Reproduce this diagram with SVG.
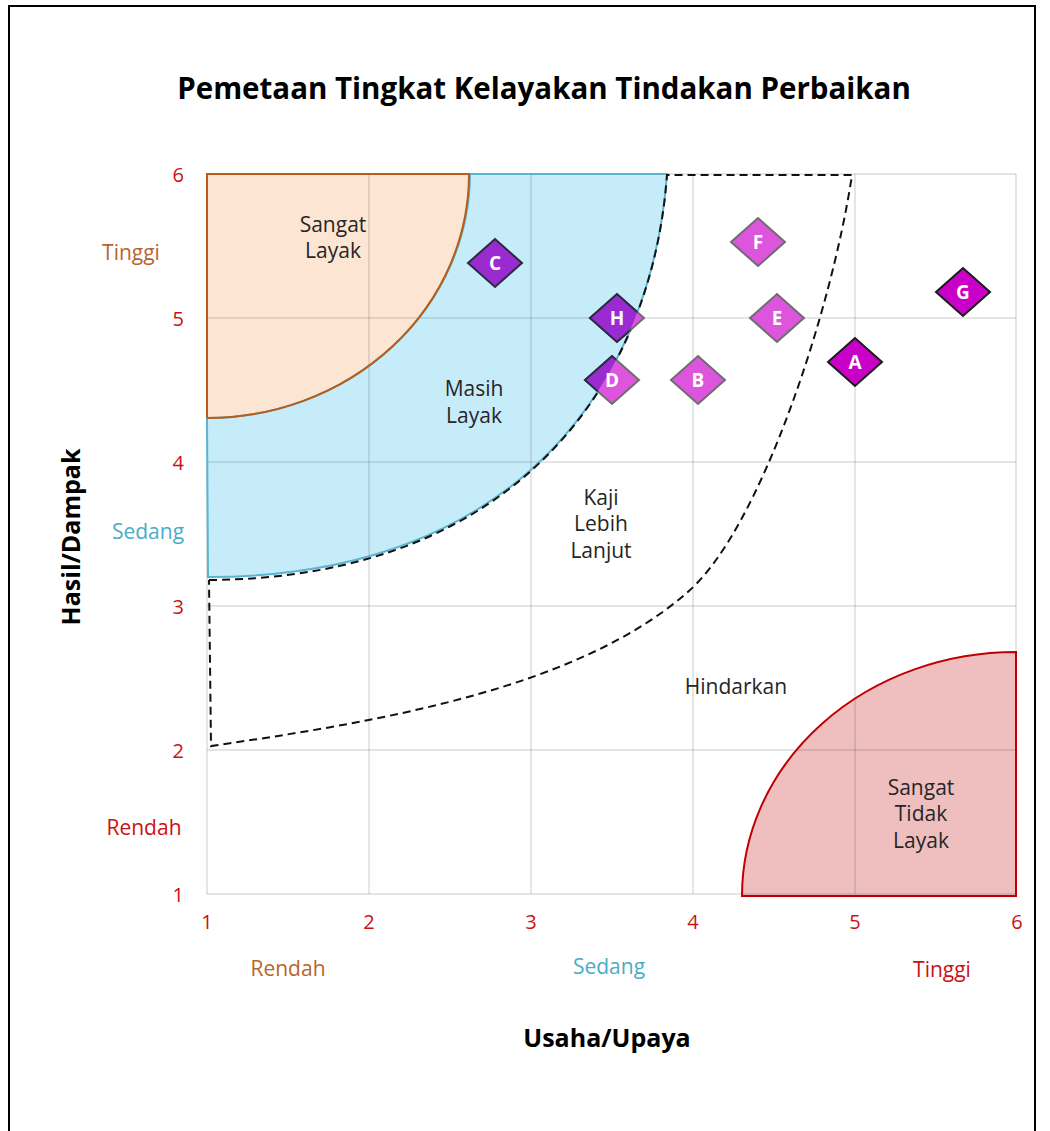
<svg xmlns="http://www.w3.org/2000/svg" width="1050" height="1131" viewBox="0 0 1050 1131">
<defs>
<style>
.lbl{font-family:"Open Sans","Liberation Sans",sans-serif;font-size:21px;fill:#262626;text-anchor:middle}
.tick{font-family:"Open Sans","Liberation Sans",sans-serif;font-size:20px;fill:#cc1111}
.lvl{font-family:"Open Sans","Liberation Sans",sans-serif;font-size:21px;text-anchor:middle}
.axt{font-family:"Open Sans","Liberation Sans",sans-serif;font-size:25px;font-weight:bold;fill:#000;text-anchor:middle}
.grid line{stroke:#000;stroke-opacity:0.1;stroke-width:2}
.pt text{font-family:"Open Sans","Liberation Sans",sans-serif;font-size:19px;font-weight:bold;fill:#fff;text-anchor:middle}
.pink{fill:#dc55dc;stroke:#6e6e6e;stroke-width:2}
.dark{fill:#9a2bd0;stroke:#2a2a40;stroke-width:2}
.mag{fill:#c800c8;stroke:#1a1a1a;stroke-width:2}
.dash{fill:none;stroke:#111;stroke-width:2;stroke-dasharray:8 5}
</style>
<path id="dm" d="M-27,0 L0,-24 L27,0 L0,24 Z"/>
<clipPath id="blueClip"><path d="M469,174 L667,174 C652,380 520,577 207,577 L207,418 A262,244 0 0 0 469,174 Z"/></clipPath>
</defs>
<rect x="0" y="0" width="1050" height="1131" fill="#fff"/>
<rect x="9" y="6" width="1026" height="1140" fill="none" stroke="#000" stroke-width="2"/>
<text x="544" y="99" class="axt" style="font-size:29.5px">Pemetaan Tingkat Kelayakan Tindakan Perbaikan</text>

<g id="region-fills">
<path id="sangat-layak" d="M207,174 L469,174 A262,244 0 0 1 207,418 Z" fill="#fde5d3"/>
<path id="masih-layak" d="M469,174 L667,174 C652,380 520,577 207,577 L207,418 A262,244 0 0 0 469,174 Z" fill="#c6ecfa"/>
<path id="sangat-tidak-layak" d="M742,896 A274,244 0 0 1 1016,652 L1016,896 Z" fill="#efbfbf"/>
</g>

<g class="grid">
<line x1="207" y1="174" x2="207" y2="894"/>
<line x1="369" y1="174" x2="369" y2="894"/>
<line x1="531" y1="174" x2="531" y2="894"/>
<line x1="693" y1="174" x2="693" y2="894"/>
<line x1="855" y1="174" x2="855" y2="894"/>
<line x1="1016" y1="174" x2="1016" y2="894"/>
<line x1="207" y1="174" x2="1016" y2="174"/>
<line x1="207" y1="318" x2="1016" y2="318"/>
<line x1="207" y1="462" x2="1016" y2="462"/>
<line x1="207" y1="606" x2="1016" y2="606"/>
<line x1="207" y1="750" x2="1016" y2="750"/>
<line x1="207" y1="894" x2="1016" y2="894"/>
</g>

<g id="region-outlines" fill="none" stroke-width="2">
<path d="M469,174 L667,174 C652,380 520,577 208,577 L207,418 A263,245 0 0 0 470,174" stroke="#5ab5d0"/>
<path d="M207,418 L207,174 L469,174 A262,244 0 0 1 207,418" stroke="#b85c1a"/>
<path d="M742,896 A274,244 0 0 1 1016,652 L1016,896 Z" stroke="#c00000"/>
</g>

<g id="boundaries">
<path class="dash" d="M209,580 C520,578 652,380 667,175 L852,175 C831,314 760,527 690,590 C580,689 376,722 211,746 L209,580"/>
</g>

<g id="region-labels">
<text class="lbl" x="333" y="232">Sangat</text>
<text class="lbl" x="333" y="258">Layak</text>
<text class="lbl" x="474" y="396">Masih</text>
<text class="lbl" x="474" y="423">Layak</text>
<text class="lbl" x="601" y="505">Kaji</text>
<text class="lbl" x="601" y="531">Lebih</text>
<text class="lbl" x="601" y="558">Lanjut</text>
<text class="lbl" x="736" y="694">Hindarkan</text>
<text class="lbl" x="921" y="795">Sangat</text>
<text class="lbl" x="921" y="821">Tidak</text>
<text class="lbl" x="921" y="848">Layak</text>
</g>

<g id="point-C" class="pt"><use href="#dm" x="495" y="263" class="dark"/><text x="495" y="270">C</text></g>
<g id="point-F" class="pt"><use href="#dm" x="758" y="242" class="pink"/><text x="758" y="249">F</text></g>
<g id="point-H" class="pt"><use href="#dm" x="617" y="318" class="pink"/><g clip-path="url(#blueClip)"><use href="#dm" x="617" y="318" class="dark"/></g><text x="617" y="325">H</text></g>
<g id="point-E" class="pt"><use href="#dm" x="777" y="318" class="pink"/><text x="777" y="325">E</text></g>
<g id="point-D" class="pt"><use href="#dm" x="612" y="380" class="pink"/><g clip-path="url(#blueClip)"><use href="#dm" x="612" y="380" class="dark"/></g><text x="612" y="387">D</text></g>
<g id="point-B" class="pt"><use href="#dm" x="698" y="380" class="pink"/><text x="698" y="387">B</text></g>
<g id="point-A" class="pt"><use href="#dm" x="855" y="362" class="mag"/><text x="855" y="369">A</text></g>
<g id="point-G" class="pt"><use href="#dm" x="963" y="292" class="mag"/><text x="963" y="299">G</text></g>

<g id="y-ticks" class="tick" text-anchor="end">
<text x="184" y="182">6</text>
<text x="184" y="326">5</text>
<text x="184" y="470">4</text>
<text x="184" y="614">3</text>
<text x="184" y="758">2</text>
<text x="184" y="902">1</text>
</g>
<g id="x-ticks" class="tick" text-anchor="middle">
<text x="207" y="929">1</text>
<text x="369" y="929">2</text>
<text x="531" y="929">3</text>
<text x="693" y="929">4</text>
<text x="855" y="929">5</text>
<text x="1017" y="929">6</text>
</g>
<g id="levels">
<text class="lvl" x="131" y="260" fill="#b8652a">Tinggi</text>
<text class="lvl" x="148" y="539" fill="#4bacc6">Sedang</text>
<text class="lvl" x="144" y="835" fill="#cc1111">Rendah</text>
<text class="lvl" x="288" y="976" fill="#b8652a">Rendah</text>
<text class="lvl" x="609" y="974" fill="#4bacc6">Sedang</text>
<text class="lvl" x="942" y="977" fill="#cc1111">Tinggi</text>
</g>
<text class="axt" x="607" y="1047">Usaha/Upaya</text>
<text class="axt" transform="translate(80,537) rotate(-90)">Hasil/Dampak</text>
</svg>
